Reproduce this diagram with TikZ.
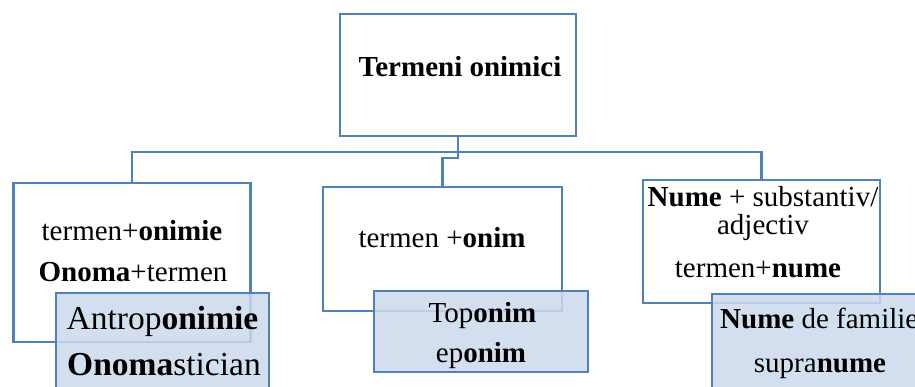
\documentclass[tikz,border=0pt]{standalone}
\usepackage{fontspec}
\setmainfont{Liberation Serif}
\definecolor{accent}{RGB}{79,129,189}
\definecolor{lightfill}{RGB}{204,218,236}
\tikzset{
  box/.style={draw=accent, line width=2.6pt, fill=white, inner sep=0pt, rectangle},
  bluebox/.style={draw=accent, line width=2.6pt, fill=lightfill, fill opacity=0.85, inner sep=0pt, rectangle},
  txt/.style={anchor=base, inner sep=0pt, font=\fontsize{29}{29}\selectfont},
  bigtxt/.style={anchor=base, inner sep=0pt, font=\fontsize{33.5}{33.5}\selectfont},
  conn/.style={draw=accent, line width=2.6pt}
}
\begin{document}
\begin{tikzpicture}[x=1pt, y=-1pt]
\useasboundingbox (0,0) rectangle (915,387);
\clip (0,0) rectangle (915,387);
\fill[white] (0,0) rectangle (915,387);
% main boxes
\node[box, minimum width=236pt, minimum height=122pt] (top) at (458,75) {};
\node[box, minimum width=237pt, minimum height=159pt] (left) at (132,262.5) {};
\node[box, minimum width=239pt, minimum height=124pt] (mid) at (442.5,249) {};
\node[box, minimum width=237pt, minimum height=123pt] (right) at (761.5,241.5) {};
% connectors
\coordinate (bus) at (458,152);
\coordinate (jog) at (458,158);
\draw[conn] (left.north) |- (bus) -| (right.north);
\draw[conn] (top.south) -- (jog) -| (mid.north);
% overlay boxes
\node[bluebox, minimum width=213pt, minimum height=110pt] (lb) at (162.5,348) {};
\node[bluebox, minimum width=214pt, minimum height=81pt] (mb) at (481,331.5) {};
\node[bluebox, minimum width=213pt, minimum height=110pt] (rb) at (818.5,349) {};
% texts
\node[txt] (t0) at (460,77) {\textbf{Termeni onimici}};
\node[txt] (l1) at (132,240.5) {termen+\textbf{onimie}};
\node[txt] (l2) at (133,281.5) {\textbf{Onoma}+termen};
\node[bigtxt] (lb1) at (162.5,329) {Antrop\textbf{onimie}};
\node[bigtxt] (lb2) at (164,375) {\textbf{Onoma}stician};
\node[txt] (m1) at (442,248) {termen +\textbf{onim}};
\node[txt] (mb1) at (482.5,322) {Top\textbf{onim}};
\node[txt] (mb2) at (481,362) {ep\textbf{onim}};
\node[txt] (r1) at (763,207) {\textbf{Nume} + substantiv/};
\node[txt] (r2) at (763,235) {adjectiv};
\node[txt] (r3) at (758,277) {termen+\textbf{nume}};
\node[txt, anchor=base west] (rb1) at (720,328) {\textbf{Nume} de familie};
\node[txt] (rb2) at (820,372) {supra\textbf{nume}};
\end{tikzpicture}
\end{document}
